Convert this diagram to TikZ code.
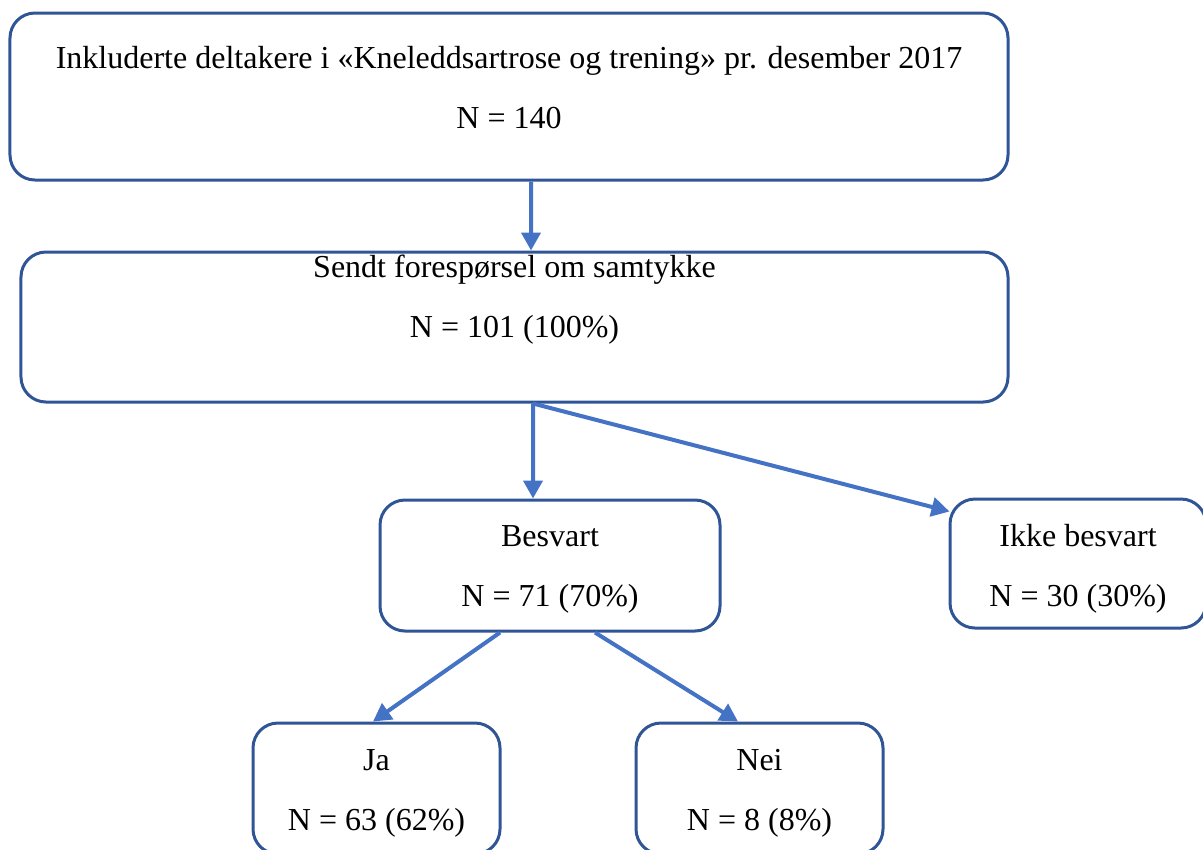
\documentclass[tikz,border=0pt]{standalone}
\usepackage{fontspec}
\setmainfont{Liberation Serif}
\usepackage{xcolor}
\definecolor{rim}{HTML}{2F5597}
\definecolor{pil}{HTML}{4472C4}
\usetikzlibrary{arrows.meta,positioning,calc}

\begin{document}
\begin{tikzpicture}[x=0.4pt,y=-0.4pt,
  box/.style={draw=rim,line width=1.2pt,rounded corners=10pt,inner sep=0pt},
  txt/.style={align=center,font=\fontsize{12.8pt}{24pt}\selectfont},
  flow/.style={draw=pil,line width=1.6pt,-{Triangle[length=7.2pt,width=7.6pt]}}]
  \useasboundingbox (0,0) rectangle (1203,849);
  \node[box,minimum width=399.2pt,minimum height=66.8pt] (incl) at (509,96.5) {};
  \node[txt] (incltxt) at (509,88) {Inkluderte deltakere i «Kneleddsartrose og trening» pr. desember 2017\\N = 140};
  \node[box,minimum width=394.8pt,minimum height=60pt] (sendt) at (514.5,327) {};
  \node[txt] (sendttxt) at (514.5,300) {Sendt forespørsel om samtykke\\N = 101 (100\%)};
  \node[box,minimum width=136pt,minimum height=52.4pt] (besv) at (550,565.5) {};
  \node[txt] (besvtxt) at (550,569) {Besvart\\N = 71 (70\%)};
  \node[box,minimum width=102.4pt,minimum height=51.6pt] (ikke) at (1078,563.5) {};
  \node[txt] (ikketxt) at (1078,568.5) {Ikke besvart\\N = 30 (30\%)};
  \node[box,minimum width=98.8pt,minimum height=52.4pt] (ja) at (376.5,788.5) {};
  \node[txt] (jatxt) at (376.5,793) {Ja\\N = 63 (62\%)};
  \node[box,minimum width=98.8pt,minimum height=52.4pt] (nei) at (759.5,788.5) {};
  \node[txt] (neitxt) at (759.5,793) {Nei\\N = 8 (8\%)};
  \draw[flow] ([xshift=8.8pt]incl.south) -- ([xshift=6.6pt]sendt.north);
  \draw[flow] ([xshift=7.4pt]sendt.south) -- ([xshift=-6.8pt]besv.north);
  \draw[flow] ([xshift=7.4pt]sendt.south) -- ($(ikke.north west)+(1,14)$);
  \draw[flow] ([xshift=-20pt]besv.south) -- ([xshift=-1.4pt]ja.north);
  \draw[flow] ([xshift=18pt]besv.south) -- ([xshift=-8.6pt]nei.north);
\end{tikzpicture}
\end{document}
